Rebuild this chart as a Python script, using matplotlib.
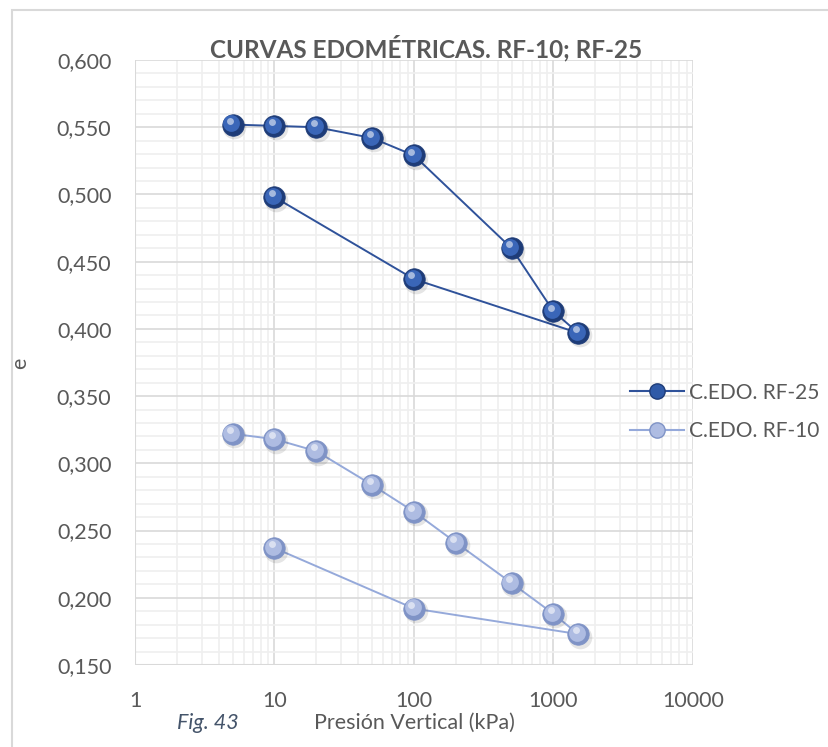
import numpy as np
import matplotlib.pyplot as plt
import matplotlib.transforms as mtransforms
from matplotlib.lines import Line2D
from matplotlib.patches import Rectangle

plt.rcParams['font.family'] = ['Lato', 'DejaVu Sans']

# presion vertical (kPa) y relacion de vacios e, carga y descarga
p_rf25 = [5, 10, 20, 50, 100, 500, 1000, 1500, 100, 10]
e_rf25 = [0.552, 0.551, 0.550, 0.542, 0.529, 0.460, 0.413, 0.397, 0.437, 0.498]

p_rf10 = [5, 10, 20, 50, 100, 200, 500, 1000, 1500, 100, 10]
e_rf10 = [0.322, 0.318, 0.309, 0.284, 0.264, 0.241, 0.211, 0.188, 0.173, 0.192, 0.237]

y_ticks = np.arange(0.15, 0.6001, 0.05)
x_ticks = [1, 10, 100, 1000, 10000]

txt = '#595959'


def esferas(ax, x, y, base, borde, linea, ms=15.5):
    # linea + marcadores con sombra y brillo
    ax.plot(x, y, color=linea, lw=1.4, zorder=3)
    sombra = mtransforms.offset_copy(ax.transData, fig=ax.figure, x=1.2, y=-1.8, units='points')
    ax.plot(x, y, ls='none', marker='o', ms=ms + 1.5, mfc='#000000', mec='none',
            alpha=0.10, transform=sombra, zorder=3)
    ax.plot(x, y, ls='none', marker='o', ms=ms, mfc=borde, mec=borde, mew=0.5, zorder=4)
    medio = mtransforms.offset_copy(ax.transData, fig=ax.figure, x=-0.8, y=0.8, units='points')
    ax.plot(x, y, ls='none', marker='o', ms=ms * 0.78, mfc=base, mec='none',
            transform=medio, zorder=5)
    brillo = mtransforms.offset_copy(ax.transData, fig=ax.figure, x=-1.8, y=2.8, units='points')
    ax.plot(x, y, ls='none', marker='o', ms=ms * 0.32, mfc='white', mec='none',
            alpha=0.55, transform=brillo, zorder=6)


def main():
    fig = plt.figure(figsize=(8.29, 7.47), dpi=100)
    ax = fig.add_axes([135 / 829, 1 - 665 / 747, (693 - 135) / 829, (665 - 60) / 747])

    esferas(ax, p_rf25, e_rf25, '#3A66B8', '#1E3C78', '#2F529A')
    esferas(ax, p_rf10, e_rf10, '#AEBCE2', '#7F93C6', '#95A9DA')

    ax.set_xscale('log')
    ax.set_xlim(1, 10000)
    ax.set_ylim(0.15, 0.60)
    ax.set_xticks(x_ticks)
    ax.set_xticklabels([str(v) for v in x_ticks])
    ax.set_yticks(y_ticks)
    ax.set_yticklabels([f'{v:.3f}'.replace('.', ',') for v in y_ticks])
    ax.set_yticks(np.arange(0.15, 0.6001, 0.01), minor=True)
    ax.xaxis.set_minor_formatter(plt.NullFormatter())
    ax.tick_params(which='both', length=0, labelsize=15.5, colors=txt)
    ax.tick_params(axis='x', pad=19)
    ax.tick_params(axis='y', pad=17)

    ax.grid(which='major', color='#D9D9D9', lw=1.2)
    ax.grid(which='minor', color='#EFEFEF', lw=1.2)
    ax.set_axisbelow(True)
    for s in ax.spines.values():
        s.set_visible(False)
    ax.axhline(0.15, color='#D9D9D9', lw=1.5, zorder=1)
    ax.axvline(1, color='#D9D9D9', lw=1.5, zorder=1)

    fig.text(426 / 829, 1 - 48 / 747, 'CURVAS EDOMÉTRICAS. RF-10; RF-25', ha='center',
             va='center', fontsize=17.5, fontweight='bold', color=txt)
    fig.text(20 / 829, 1 - 363 / 747, 'e', rotation=90, ha='center', va='center',
             fontsize=15.5, color=txt)
    fig.text(414 / 829, 1 - 723 / 747, 'Presión Vertical (kPa)', ha='center', va='center',
             fontsize=15.5, color=txt)
    fig.text(208 / 829, 1 - 723 / 747, 'Fig. 43', ha='center', va='center',
             fontsize=15.5, style='italic', color='#44546A')

    # leyenda a la derecha
    h25 = Line2D([], [], color='#2F529A', lw=1.5, marker='o', ms=11,
                 mfc='#2F5AA8', mec='#1E3C78')
    h10 = Line2D([], [], color='#95A9DA', lw=1.5, marker='o', ms=11,
                 mfc='#AEBCE2', mec='#7F93C6')
    fig.legend([h25, h10], ['C.EDO. RF-25', 'C.EDO. RF-10'], loc='center left',
               bbox_to_anchor=(622 / 829, 1 - 412 / 747), frameon=False, fontsize=15,
               labelcolor=txt, handlelength=2.6, handletextpad=0.2, labelspacing=0.9,
               borderaxespad=0)

    fig.add_artist(Rectangle((12 / 829, -0.02), 1.0, 1 - 10 / 747 + 0.02,
                             transform=fig.transFigure, fill=False,
                             ec='#D9D9D9', lw=1.5))

    plt.savefig('out.png', dpi=100)


if __name__ == "__main__":
    main()
